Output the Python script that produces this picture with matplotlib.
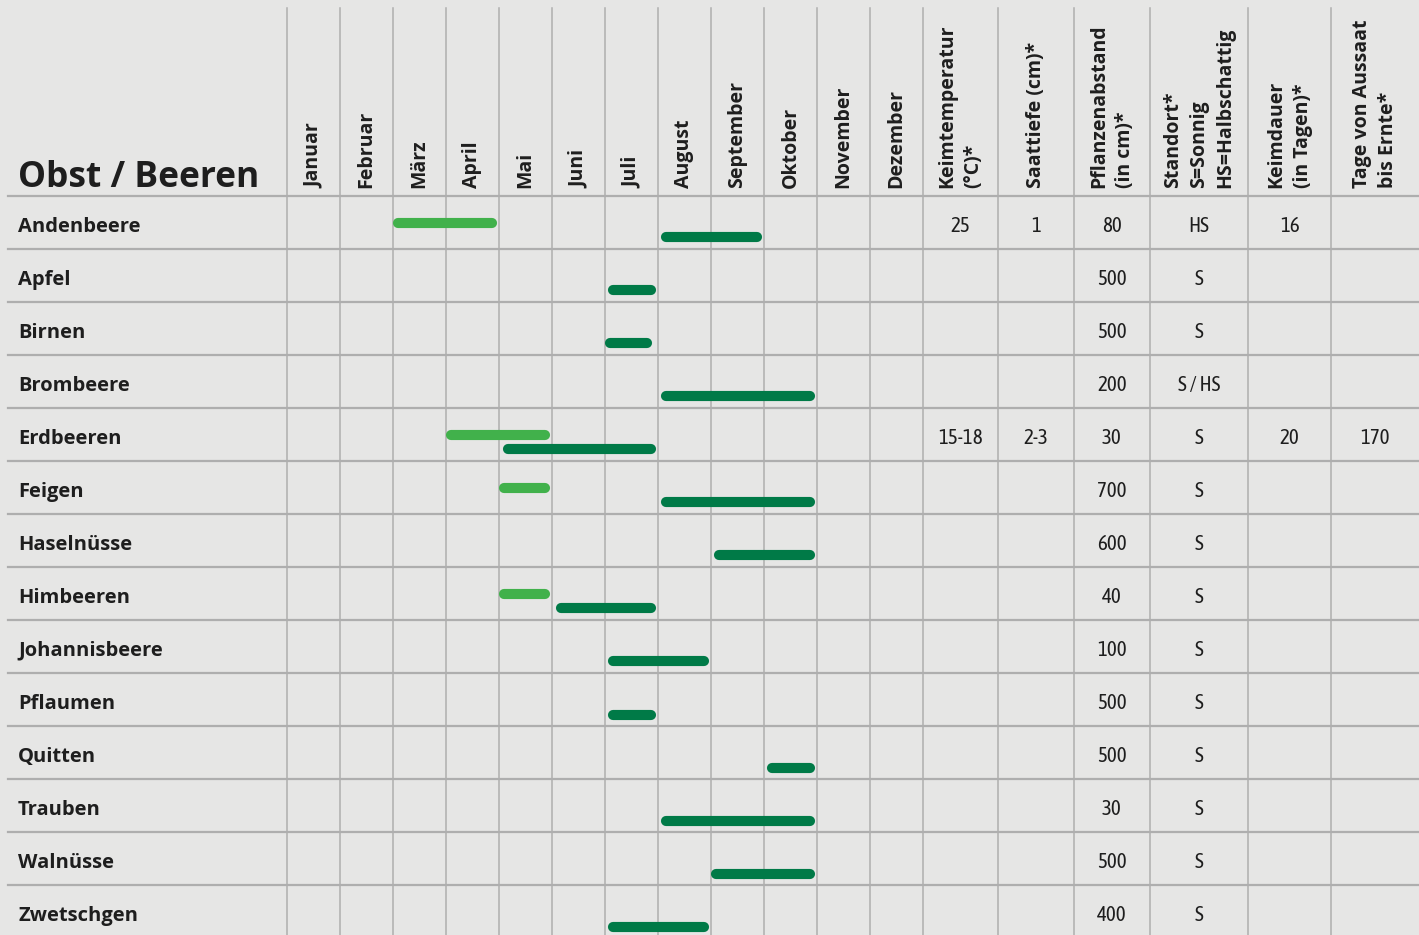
import matplotlib
matplotlib.use("Agg")
import matplotlib.pyplot as plt

# data
fruits = ["Andenbeere", "Apfel", "Birnen", "Brombeere", "Erdbeeren", "Feigen",
          "Haselnüsse", "Himbeeren", "Johannisbeere", "Pflaumen", "Quitten",
          "Trauben", "Walnüsse", "Zwetschgen"]
months = ["Januar", "Februar", "März", "April", "Mai", "Juni", "Juli",
          "August", "September", "Oktober", "November", "Dezember"]
# sowing (light green) and harvest (dark green) spans in months (0 = start of Januar)
sowing = {"Andenbeere": (2.0, 3.96), "Erdbeeren": (3.0, 4.96),
          "Feigen": (4.0, 4.96), "Himbeeren": (4.0, 4.96)}
harvest = {"Andenbeere": (7.06, 8.96), "Apfel": (6.06, 6.96), "Birnen": (6.0, 6.89),
           "Brombeere": (7.06, 9.96), "Erdbeeren": (4.08, 6.96), "Feigen": (7.06, 9.96),
           "Haselnüsse": (8.06, 9.96), "Himbeeren": (5.08, 6.96),
           "Johannisbeere": (6.06, 7.96), "Pflaumen": (6.06, 6.96),
           "Quitten": (9.06, 9.96), "Trauben": (7.06, 9.96), "Walnüsse": (8.0, 9.96),
           "Zwetschgen": (6.06, 7.96)}
extra_headers = ["Keimtemperatur\n(°C)*", "Saattiefe (cm)*", "Pflanzenabstand\n(in cm)*",
                 "Standort*\nS=Sonnig\nHS=Halbschattig", "Keimdauer\n(in Tagen)*",
                 "Tage von Aussaat\nbis Ernte*"]
keimtemp = ["25", "", "", "", "15-18", "", "", "", "", "", "", "", "", ""]
saattiefe = ["1", "", "", "", "2-3", "", "", "", "", "", "", "", "", ""]
abstand = ["80", "500", "500", "200", "30", "700", "600", "40", "100", "500",
           "500", "30", "500", "400"]
standort = ["HS", "S", "S", "S / HS", "S", "S", "S", "S", "S", "S", "S", "S", "S", "S"]
keimdauer = ["16", "", "", "", "20", "", "", "", "", "", "", "", "", ""]
tage = ["", "", "", "", "170", "", "", "", "", "", "", "", "", ""]

# layout (units: one month column / one row)
extra_widths = [1.415, 1.435, 1.435, 1.85, 1.57, 1.66]
left_edge = -5.415
right_edge = 21.36
top_edge = -3.70
bottom_edge = 13.94
line_top = -3.547
line_left = -5.264

bold_font = ['Open Sans', 'DejaVu Sans']
value_font = ['Asap Condensed', 'DejaVu Sans']
plt.rcParams['font.family'] = value_font

bg = "#e6e6e5"
grid_c = "#aeaeae"
light = "#41b14b"
dark = "#007a47"
ink = "#1e1e1e"

fig = plt.figure(figsize=(14.19, 9.35), dpi=100, facecolor=bg)
ax = fig.add_axes([0, 0, 1, 1])
ax.set_facecolor(bg)
ax.set_xlim(left_edge, right_edge)
ax.set_ylim(bottom_edge, top_edge)
ax.axis("off")

# column boundaries
bounds = list(range(0, 13))
x = 12.0
for w in extra_widths:
    x += w
    bounds.append(x)
for b in bounds[:-1]:
    ax.plot([b, b], [line_top, bottom_edge], color=grid_c, lw=1.1, zorder=1)
for r in range(len(fruits)):
    ax.plot([line_left, right_edge], [r, r], color=grid_c, lw=1.6, zorder=1)

# header
ax.text(line_left + 0.19, -0.17, "Obst / Beeren", fontsize=25.5, fontweight="bold",
        family=bold_font, color=ink, ha="left", va="baseline")
for i, m in enumerate(months):
    ax.text(i + 0.5, -0.15, m, rotation=90, fontsize=14, fontweight="bold",
            family=bold_font, color=ink, ha="center", va="bottom")
for i, h in enumerate(extra_headers):
    cx = (bounds[12 + i] + bounds[13 + i]) / 2
    ax.text(cx, -0.15, h, rotation=90, fontsize=14, fontweight="bold",
            family=bold_font, color=ink, ha="center", va="bottom",
            multialignment="left", linespacing=1.4)

# rows
cap = 5 / 53  # half of the line width in month units (round caps)
cols = [keimtemp, saattiefe, abstand, standort, keimdauer, tage]
for r, name in enumerate(fruits):
    yc = r + 0.5
    ax.text(line_left + 0.19, yc + 0.03, name, fontsize=14.5, fontweight="bold",
            family=bold_font, color=ink, ha="left", va="center_baseline")
    if name in sowing:
        s, e = sowing[name]
        ax.plot([s + cap, e - cap], [yc, yc], color=light, lw=7.3,
                solid_capstyle="round", zorder=3)
    if name in harvest:
        s, e = harvest[name]
        ax.plot([s + cap, e - cap], [yc + 0.28, yc + 0.28], color=dark, lw=7.3,
                solid_capstyle="round", zorder=3)
    for i, col in enumerate(cols):
        if col[r]:
            cx = (bounds[12 + i] + bounds[13 + i]) / 2
            ax.text(cx, yc + 0.03, col[r], fontsize=15, fontweight="normal",
                    family=value_font, color=ink, ha="center", va="center_baseline")

fig.savefig("out.png", dpi=100, facecolor=bg)
